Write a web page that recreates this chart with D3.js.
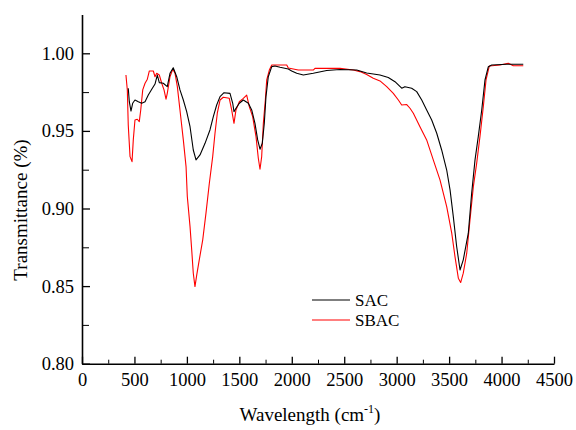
<!DOCTYPE html>
<html>
<head>
<meta charset="utf-8">
<script src="https://cdn.jsdelivr.net/npm/d3@7"></script>
<style>
  body { margin: 0; background: #fff; }
</style>
</head>
<body>
<div id="chart"></div>
<script>
// SAC spectrum (wavenumber, transmittance)
const sacWave = [441, 451, 467, 483, 505, 537, 569, 601, 632, 665, 696, 718, 737, 775, 813, 839, 870, 903, 934, 966,
    998, 1030, 1061, 1087, 1125, 1173, 1220, 1252, 1284, 1316, 1354, 1411, 1437, 1449, 1468, 1500, 1538, 1586, 1618, 1649,
    1675, 1697, 1719, 1738, 1754, 1776, 1809, 1840, 1888, 1967, 1999, 2047, 2110, 2205, 2333, 2460, 2619, 2714, 2841, 2920,
    2984, 3048, 3079, 3143, 3191, 3239, 3286, 3334, 3382, 3429, 3477, 3509, 3540, 3572, 3604, 3635, 3683, 3715, 3747, 3778,
    3811, 3842, 3874, 3906, 4049, 4207];
const sacTrans = [0.9775, 0.9688, 0.9628, 0.9678, 0.9699, 0.9688, 0.9678, 0.9688, 0.9731, 0.9768, 0.9802, 0.9860, 0.9811, 0.9807, 0.9785, 0.9871, 0.9907, 0.9849, 0.9764, 0.9699,
    0.9624, 0.9527, 0.9377, 0.9313, 0.9345, 0.9420, 0.9506, 0.9592, 0.9667, 0.9721, 0.9746, 0.9742, 0.9678, 0.9624, 0.9646, 0.9678, 0.9699, 0.9678, 0.9635, 0.9549,
    0.9442, 0.9382, 0.9420, 0.9549, 0.9721, 0.9849, 0.9914, 0.9918, 0.9910, 0.9899, 0.9886, 0.9871, 0.9860, 0.9871, 0.9889, 0.9896, 0.9892, 0.9873, 0.9860, 0.9844,
    0.9817, 0.9775, 0.9785, 0.9775, 0.9753, 0.9699, 0.9635, 0.9570, 0.9485, 0.9377, 0.9248, 0.9120, 0.8948, 0.8755, 0.8604, 0.8669, 0.8841, 0.9098, 0.9313, 0.9463,
    0.9635, 0.9828, 0.9914, 0.9925, 0.9929, 0.9929];

// SBAC spectrum
const sbacWave = [419, 432, 441, 458, 477, 489, 505, 527, 546, 560, 579, 601, 623, 642, 680, 696, 712, 737, 760, 782,
    801, 813, 839, 865, 887, 909, 934, 966, 992, 1004, 1030, 1046, 1061, 1077, 1094, 1118, 1151, 1182, 1214, 1246,
    1268, 1290, 1316, 1347, 1404, 1427, 1449, 1468, 1500, 1538, 1570, 1595, 1627, 1659, 1681, 1697, 1713, 1729, 1748, 1761,
    1786, 1809, 1952, 1967, 2062, 2205, 2221, 2460, 2587, 2650, 2714, 2777, 2841, 2905, 2968, 3016, 3048, 3096, 3127, 3159,
    3222, 3286, 3349, 3413, 3477, 3525, 3556, 3588, 3610, 3635, 3668, 3699, 3731, 3763, 3794, 3826, 3852, 3883, 3985, 4064,
    4112, 4207];
const sbacTrans = [0.9860, 0.9764, 0.9538, 0.9334, 0.9302, 0.9442, 0.9570, 0.9575, 0.9560, 0.9635, 0.9764, 0.9807, 0.9833, 0.9886, 0.9886, 0.9849, 0.9871, 0.9860, 0.9807, 0.9764,
    0.9704, 0.9742, 0.9849, 0.9897, 0.9871, 0.9785, 0.9635, 0.9442, 0.9270, 0.9077, 0.8883, 0.8733, 0.8583, 0.8497, 0.8572, 0.8669, 0.8798, 0.8970, 0.9163, 0.9334,
    0.9485, 0.9614, 0.9699, 0.9717, 0.9710, 0.9635, 0.9549, 0.9635, 0.9688, 0.9710, 0.9731, 0.9656, 0.9592, 0.9463, 0.9324, 0.9253, 0.9334, 0.9549, 0.9699, 0.9828,
    0.9892, 0.9925, 0.9925, 0.9905, 0.9892, 0.9892, 0.9903, 0.9903, 0.9892, 0.9882, 0.9863, 0.9839, 0.9822, 0.9785, 0.9742, 0.9699, 0.9667, 0.9670, 0.9646, 0.9614,
    0.9527, 0.9442, 0.9313, 0.9184, 0.9012, 0.8841, 0.8690, 0.8551, 0.8523, 0.8583, 0.8712, 0.8926, 0.9141, 0.9292, 0.9463, 0.9656, 0.9828, 0.9918, 0.9925, 0.9936,
    0.9920, 0.9920];

const xTicks = [0, 500, 1000, 1500, 2000, 2500, 3000, 3500, 4000, 4500];
const xMinorTicks = [250, 750, 1250, 1750, 2250, 2750, 3250, 3750, 4250];
const yTicks = [0.80, 0.85, 0.90, 0.95, 1.00];
const yMinorTicks = [0.825, 0.875, 0.925, 0.975];

const seriesNames = ["SAC", "SBAC"];
const seriesColors = ["#000000", "#ff0000"];

const width = 576, height = 430;
const svg = d3.select("#chart").append("svg")
    .attr("width", width)
    .attr("height", height);

// font rule inside the svg itself
svg.append("style").text("text { font-family: 'Liberation Serif', Tinos, 'Times New Roman', serif; }");

//Scales
const x = d3.scaleLinear().domain([0, 4500]).range([82, 554]);
const y = d3.scaleLinear().domain([0.8, 1.025]).range([363.7, 14.5]);

//Minor ticks
svg.append("g")
    .attr("transform", "translate(0,363.7)")
    .call(d3.axisBottom(x).tickValues(xMinorTicks).tickSize(-4).tickSizeOuter(0).tickFormat(""))
    .call(g => g.select(".domain").remove());
svg.append("g")
    .attr("transform", "translate(82,0)")
    .call(d3.axisLeft(y).tickValues(yMinorTicks).tickSize(-7).tickSizeOuter(0).tickFormat(""))
    .call(g => g.select(".domain").remove());

//Major axes
const xAxis = svg.append("g")
    .attr("transform", "translate(0,363.7)")
    .call(d3.axisBottom(x).tickValues(xTicks).tickSize(-7).tickSizeOuter(0).tickPadding(9).tickFormat(d3.format("d")));
const yAxis = svg.append("g")
    .attr("transform", "translate(82,0)")
    .call(d3.axisLeft(y).tickValues(yTicks).tickSize(-8).tickSizeOuter(0).tickPadding(8).tickFormat(d3.format(".2f")));

[xAxis, yAxis].forEach(function (a) {
    a.attr("font-family", null).attr("font-size", 18.5);
    a.selectAll("text").attr("fill", "#000");
    a.selectAll("line").attr("stroke", "#000").attr("stroke-width", 1.3);
    a.select(".domain").attr("stroke", "#000").attr("stroke-width", 1.6);
});

//Spectra
const line = d3.line()
    .x(d => x(d[0]))
    .y(d => y(d[1]));

const series = [
    d3.zip(sacWave, sacTrans),
    d3.zip(sbacWave, sbacTrans)
];

// draw SBAC first so SAC sits on top where overlapping
[1, 0].forEach(function (i) {
    svg.append("path")
        .datum(series[i])
        .attr("d", line)
        .attr("fill", "none")
        .attr("stroke", seriesColors[i])
        .attr("stroke-width", 1.1)
        .attr("stroke-linejoin", "round");
});

//Legend
const legend = svg.append("g").attr("transform", "translate(312,300)");
seriesNames.forEach(function (name, i) {
    legend.append("line")
        .attr("x1", 0).attr("x2", 38)
        .attr("y1", i * 20).attr("y2", i * 20)
        .attr("stroke", seriesColors[i])
        .attr("stroke-width", 1.1);
    legend.append("text")
        .attr("x", 43)
        .attr("y", i * 20 + 6)
        .attr("font-size", 17)
        .attr("fill", "#000")
        .text(name);
});

//Axis titles
const xTitle = svg.append("text")
    .attr("x", 310)
    .attr("y", 421)
    .attr("text-anchor", "middle")
    .attr("font-size", 19)
    .attr("fill", "#000");
xTitle.append("tspan").text("Wavelength (cm");
xTitle.append("tspan").attr("dy", -8).attr("font-size", 12).text("-1");
xTitle.append("tspan").attr("dy", 8).text(")");

svg.append("text")
    .attr("transform", "translate(27,210) rotate(-90)")
    .attr("text-anchor", "middle")
    .attr("font-size", 19)
    .attr("fill", "#000")
    .text("Transmittance (%)");
</script>
</body>
</html>
